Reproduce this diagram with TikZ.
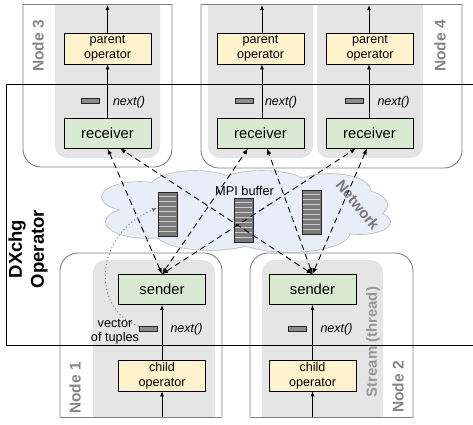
\documentclass[tikz,border=0pt]{standalone}
\usepackage{fontspec}
\setmainfont{Liberation Sans}
\usetikzlibrary{arrows.meta,calc}
\definecolor{streamgray}{HTML}{E5E5E5}
\definecolor{nodeborder}{HTML}{808080}
\definecolor{parentfill}{HTML}{FFF2CC}
\definecolor{recvfill}{HTML}{D9EAD3}
\definecolor{cloudfill}{HTML}{E8EEF8}
\definecolor{cloudline}{HTML}{BDBDBD}
\definecolor{labelgray}{HTML}{858585}
\definecolor{bufgray}{HTML}{7A7A7A}
\begin{document}
\begin{tikzpicture}[x=1pt,y=-1pt,
 opbox/.style={draw=black, line width=0.8pt, minimum width=87pt, minimum height=31pt, inner sep=0pt, font=\fontsize{12.6}{15}\selectfont, align=center},
 parentbox/.style={opbox, fill=parentfill},
 recvbox/.style={opbox, fill=recvfill, minimum height=30pt, font=\fontsize{14.8}{16}\selectfont},
 tuple/.style={draw=black!85, fill=black!45, line width=0.7pt, minimum width=18pt, minimum height=5pt, inner sep=0pt},
 nextlbl/.style={font=\fontsize{12.5}{14}\selectfont\itshape, inner sep=0pt},
 nodelbl/.style={font=\fontsize{15.5}{17}\selectfont\bfseries, text=labelgray, rotate=90, inner sep=0pt},
 arr/.style={-{Latex[length=5pt,width=4pt]}, line width=0.8pt},
 dasharr/.style={{Latex[length=6pt,width=4.5pt]}-{Latex[length=6pt,width=4.5pt]}, line width=0.9pt, dash pattern=on 6pt off 4pt},
 outline/.style={draw=nodeborder, line width=0.9pt},
]
\useasboundingbox (0,0) rectangle (473,424);

% ---------- node boxes with stream regions ----------
% Node 3
\fill[streamgray, rounded corners=12pt] (55,4) -- (55,158) -- (160,158) -- (160,4);
\draw[outline] (23,4) -- (172,4);
\draw[outline, rounded corners=18pt] (23,4) -- (23,167) -- (172,167) -- (172,4);
% Node 4
\fill[streamgray, rounded corners=12pt] (208,4) -- (208,158) -- (313,158) -- (313,4);
\fill[streamgray, rounded corners=12pt] (317,4) -- (317,158) -- (423,158) -- (423,4);
\draw[outline] (201,4) -- (462,4);
\draw[outline, rounded corners=18pt] (201,4) -- (201,168) -- (462,168) -- (462,4);
% Node 1
\fill[streamgray, rounded corners=12pt] (93,417) -- (93,260) -- (215,260) -- (215,417);
\draw[outline] (60,417) -- (222,417);
\draw[outline, rounded corners=18pt] (60,417) -- (60,253) -- (222,253) -- (222,417);
% Node 2
\fill[streamgray, rounded corners=12pt] (262,417) -- (262,260) -- (383,260) -- (383,417);
\draw[outline] (250,417) -- (413,417);
\draw[outline, rounded corners=18pt] (250,417) -- (250,253) -- (413,253) -- (413,417);

% ---------- cloud ----------
\foreach \cx/\cy/\rx/\ry in {140/197/38/15, 148/222/42/16, 195/188/45/17, 262/187/48/16, 330/190/40/16, 357/205/30/15, 360/222/30/12, 290/232/60/20, 210/232/55/18, 250/210/100/25}
  \draw[cloudline, line width=1.6pt] (\cx,\cy) ellipse [x radius=\rx pt, y radius=\ry pt];
\foreach \cx/\cy/\rx/\ry in {140/197/38/15, 148/222/42/16, 195/188/45/17, 262/187/48/16, 330/190/40/16, 357/205/30/15, 360/222/30/12, 290/232/60/20, 210/232/55/18, 250/210/100/25}
  \fill[cloudfill] (\cx,\cy) ellipse [x radius=\rx pt, y radius=\ry pt];

\node[font=\fontsize{15}{17}\selectfont\bfseries, text=labelgray!90!black, rotate=-51, inner sep=0pt] (net) at (358,205) {Network};
\node[font=\fontsize{12.8}{14}\selectfont, inner sep=0pt] (mpi) at (244.5,191) {MPI buffer};

% buffers
\foreach \bx/\by in {158/192, 234/198, 302/190} {
  \fill[bufgray] (\bx,\by) rectangle ++(19,44);
  \foreach \i in {1,...,8}
    \draw[black!20, line width=0.8pt] (\bx+1,\by+\i*4.89) -- ++(17,0);
  \draw[black!85, line width=0.9pt] (\bx,\by) rectangle ++(19,44);
}

% ---------- DXchg operator frame ----------
\draw[line width=1pt] (473,84) -- (6,84) -- (6,345) -- (473,345);
\node[font=\fontsize{18.5}{22}\selectfont\bfseries, rotate=90, align=center, inner sep=0pt] (dx) at (28,249) {DXchg\\Operator};

% ---------- labels ----------
\node[nodelbl] (l3) at (38,46) {Node 3};
\node[nodelbl] (l4) at (440,46) {Node 4};
\node[nodelbl] (l1) at (75,388) {Node 1};
\node[nodelbl] (l2) at (398,387) {Node 2};
\node[nodelbl, text=labelgray!85, font=\fontsize{14.9}{17}\selectfont\bfseries] (st) at (373,342) {Stream (thread)};

% ---------- operators ----------
\node[parentbox] (p3) at (107.5,48.5) {parent\\operator};
\node[parentbox] (p4a) at (260.5,48.5) {parent\\operator};
\node[parentbox] (p4b) at (370,48.5) {parent\\operator};
\node[recvbox] (r3) at (107.5,133) {receiver};
\node[recvbox] (r4a) at (260.5,133) {receiver};
\node[recvbox] (r4b) at (369.5,133) {receiver};
\node[recvbox] (s1) at (162,289.5) {sender};
\node[recvbox] (s2) at (312.5,289.5) {sender};
\node[parentbox] (c1) at (162,375.5) {child\\operator};
\node[parentbox] (c2) at (312.5,375.5) {child\\operator};

% tuples and next()
\node[tuple] (t3) at (90,100.5) {};
\node[tuple] (t4a) at (244,100.5) {};
\node[tuple] (t4b) at (354,100.5) {};
\node[tuple] (t1) at (148,329) {};
\node[tuple] (t2) at (297.5,329) {};
\node[nextlbl] (n3) at (129,102) {next()};
\node[nextlbl] (n4a) at (281,102) {next()};
\node[nextlbl] (n4b) at (393.5,102) {next()};
\node[nextlbl] (n1) at (186.5,329) {next()};
\node[nextlbl] (n2) at (336.5,329) {next()};
\node[font=\fontsize{12.7}{13.5}\selectfont, align=center, inner sep=0pt] (vt) at (115,331.5) {vector\\of tuples};

% ---------- vertical arrows ----------
\coordinate (top3) at (107.5,5);
\coordinate (top4a) at (262,5);
\coordinate (top4b) at (369,5);
\coordinate (bot1) at (162,417);
\coordinate (bot2) at (312.5,417);
\draw[arr] (p3.north) -- (top3);
\draw[arr] (r3.north) -- (p3.south);
\draw[arr] (p4a.north -| top4a) -- (top4a);
\draw[arr] (r4a.north -| top4a) -- (p4a.south -| top4a);
\draw[arr] (p4b.north -| top4b) -- (top4b);
\draw[arr] (r4b.north -| top4b) -- (p4b.south -| top4b);
\draw[arr] (bot1) -- (c1.south);
\draw[arr] (c1.north) -- (s1.south);
\draw[arr] (bot2) -- (c2.south);
\draw[arr] (c2.north) -- (s2.south);

% ---------- dashed exchange arrows ----------
\draw[dasharr] (s1.north) -- ($(r3.south)+(0,0)$);
\draw[dasharr] (s1.north) -- ($(r4a.south)+(-12.5,0)$);
\draw[dasharr] (s1.north) -- ($(r4b.south)+(-13.5,0)$);
\draw[dasharr] (s2.north) -- ($(r3.south)+(12.5,0)$);
\draw[dasharr] (s2.north) -- ($(r4a.south)+(6.5,0)$);
\draw[dasharr] (s2.north) -- ($(r4b.south)+(-2.5,0)$);

% ---------- dotted arrow ----------
\coordinate (bufin) at (157,208);
\draw[black!55, line width=0.9pt, dash pattern=on 1pt off 2.6pt, -{Latex[length=5pt,width=4pt]}]
  (t1.north west) .. controls (92,310) and (92,235) .. (bufin);
\end{tikzpicture}
\end{document}
